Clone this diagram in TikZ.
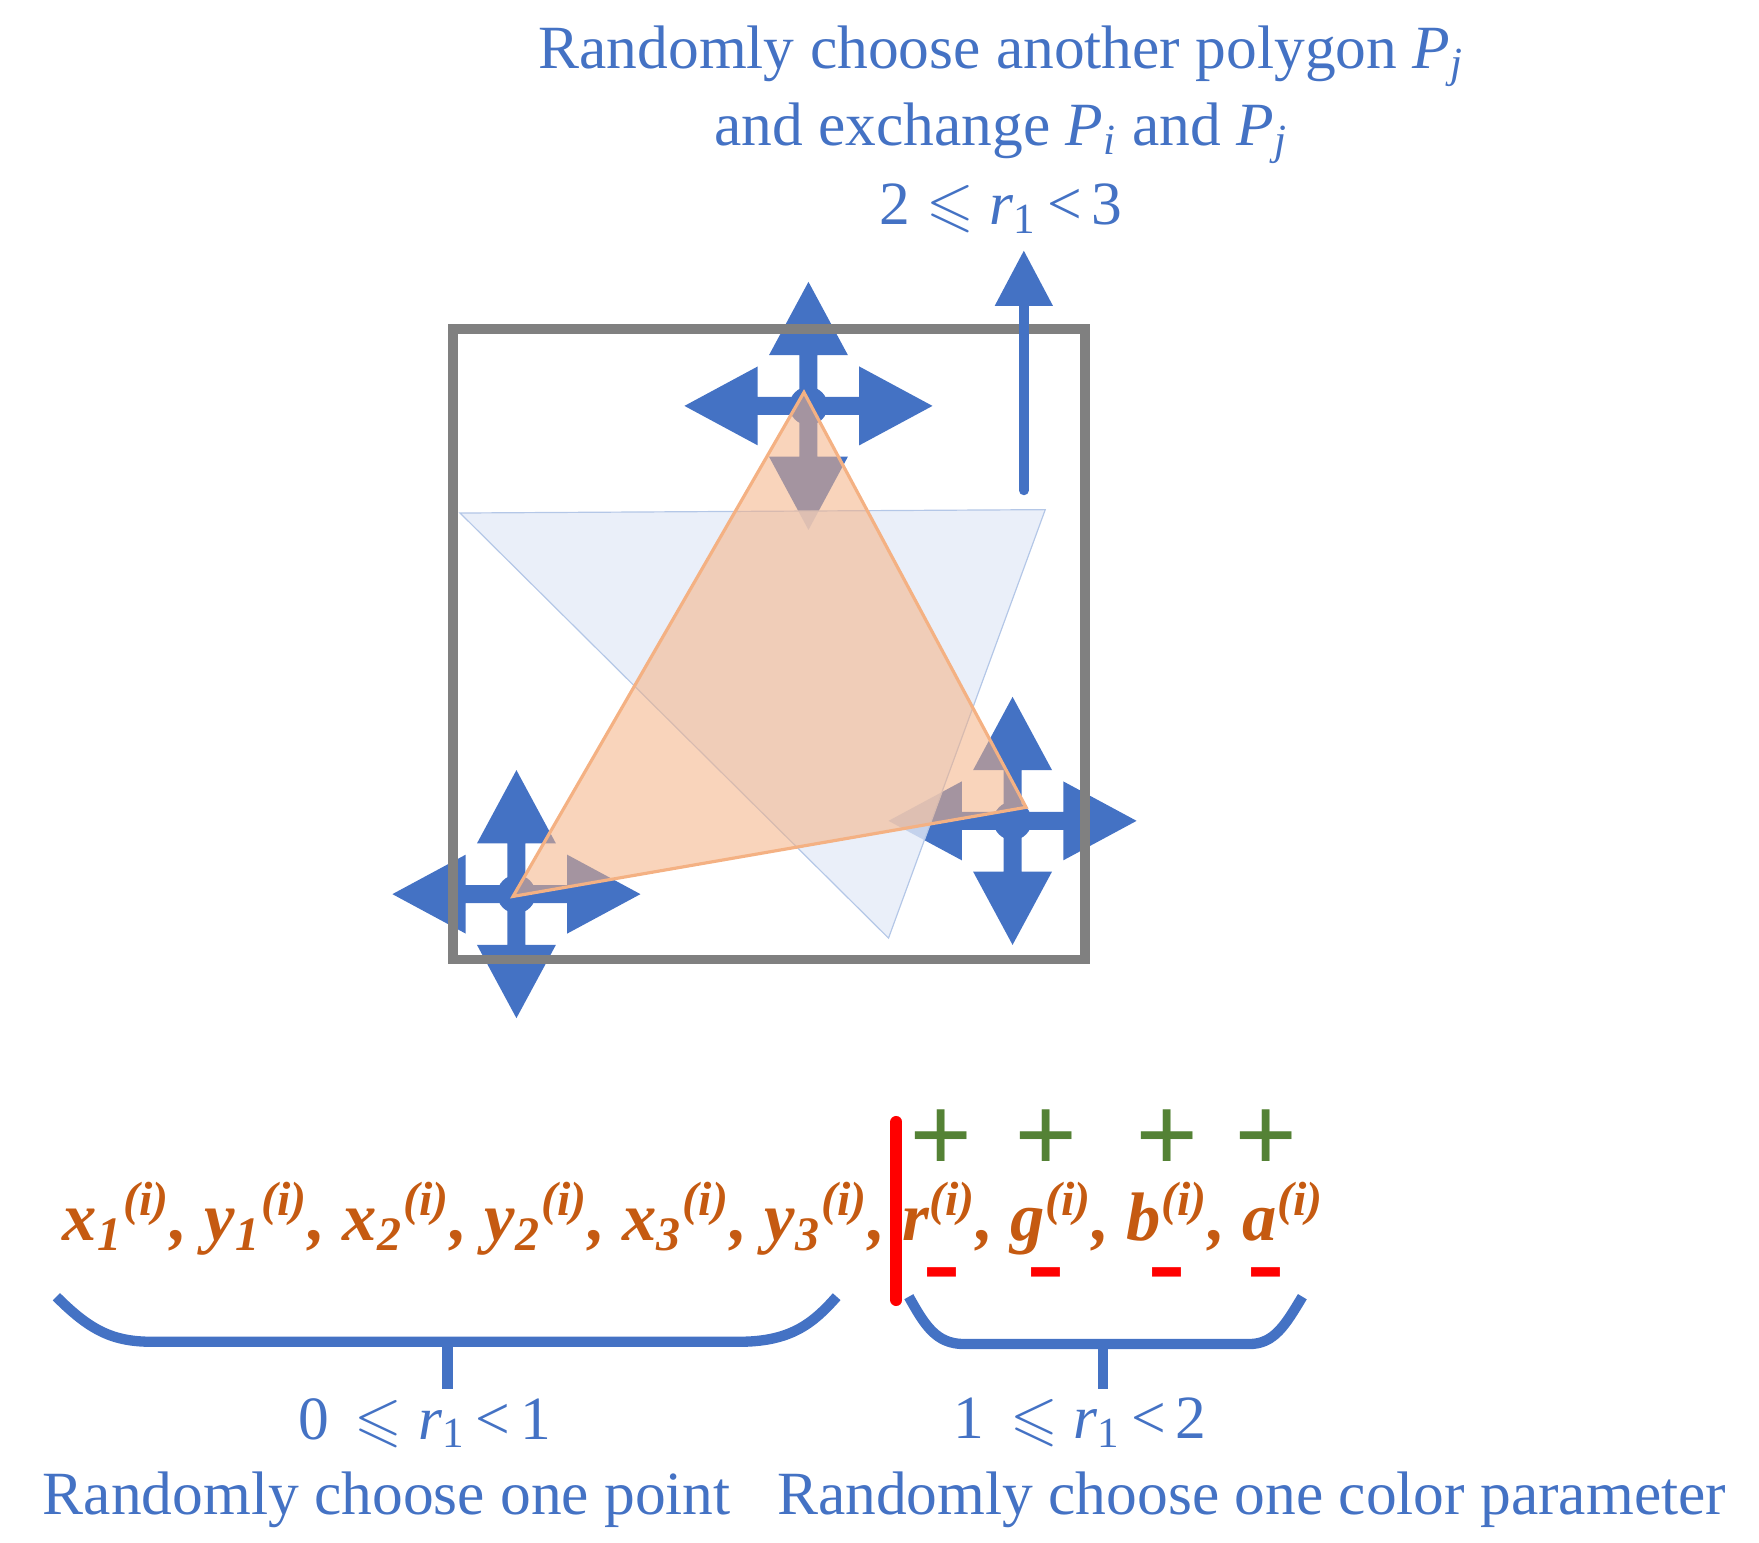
\documentclass[tikz,border=0pt]{standalone}
\usepackage{amssymb}
\usepackage{fontspec}
\setmainfont{Liberation Serif}
\usetikzlibrary{arrows.meta}
\definecolor{myblue}{HTML}{4472C4}
\definecolor{myor}{HTML}{C55A11}
\definecolor{mygreen}{HTML}{548235}
\definecolor{tri}{HTML}{F4B183}
\tikzset{x=0.01cm,y=-0.01cm,
 lbl/.style={text=myblue,font=\fontsize{15.5}{19}\selectfont,inner sep=0pt},
 sgn/.style={font=\fontsize{28}{28}\selectfont\bfseries,inner sep=0pt},
 brace/.style={draw=myblue,line width=2.6pt}}
\newcommand{\myarm}[1]{%
 \fill[myblue,rotate=#1] (0,-8) -- (-45,-8) -- (-45,-35) -- (-110,0) -- (-45,35) -- (-45,8) -- (0,8) -- cycle;}
\newcommand{\mycross}[2]{%
 \begin{scope}[shift={(#1,#2)}]
 \myarm{0}\myarm{90}\myarm{180}\myarm{270}
 \fill[myblue] (0,0) circle (17);
 \end{scope}}
\begin{document}
\begin{tikzpicture}
\useasboundingbox (0,0) rectangle (1560,1368);
\mycross{717}{360}
\mycross{458}{793}
\mycross{898}{728}
% box
\node[draw=gray,line width=2.4pt,minimum width=5.6cm,minimum height=5.59cm,inner sep=0pt] (box) at (682,571.5) {};
% triangles
\fill[myblue!14,opacity=0.8] (408,455) -- (927,452) -- (788,832) -- cycle;
\draw[myblue!40,line width=0.3pt] (408,455) -- (927,452) -- (788,832) -- cycle;
\filldraw[fill=tri,fill opacity=0.55,draw=tri,line width=0.8pt] (713,348) -- (910,716) -- (455,795) -- cycle;
% up arrow
\coordinate (ua) at (908,435);
\coordinate (ub) at (908,222);
\draw[myblue,line width=2.4pt,line cap=round,-{Triangle[length=14pt,width=14pt]}] (ua) -- (ub);
% top text
\node[lbl] (t1) at (888,50) {Randomly choose another polygon \textit{P}\textsubscript{\textit{j}}};
\node[lbl] (t2) at (888,118) {and exchange \textit{P}\textsubscript{\textit{i}} and \textit{P}\textsubscript{\textit{j}}};
\node[lbl] (t3) at (888,185) {2 $\leqslant$ \textit{r}\textsubscript{1}\,<\,3};
% formula
\node[text=myor,font=\fontsize{17.3}{20}\selectfont\bfseries\itshape,inner sep=0pt,anchor=base west] (f) at (55,1100)
{x\textsubscript{1}\textsuperscript{(i)}, y\textsubscript{1}\textsuperscript{(i)}, x\textsubscript{2}\textsuperscript{(i)}, y\textsubscript{2}\textsuperscript{(i)}, x\textsubscript{3}\textsuperscript{(i)}, y\textsubscript{3}\textsuperscript{(i)}, r\textsuperscript{(i)}, g\textsuperscript{(i)}, b\textsuperscript{(i)}, a\textsuperscript{(i)}};
\draw[red,line width=3pt,line cap=round] (795,995) -- (795,1153);
\foreach \x in {835,928,1035,1123}{
 \node[sgn,text=mygreen] at (\x,1012) {+};
 \node[sgn,text=red] at (\x,1138) {-};}
% braces
\draw[brace] (50,1150) .. controls (80,1180) and (100,1190) .. (135,1190) -- (655,1190) .. controls (700,1190) and (720,1175) .. (742,1150);
\draw[brace] (397,1190) -- (397,1232);
\draw[brace] (806,1150) .. controls (820,1175) and (830,1192) .. (855,1192) -- (1108,1192) .. controls (1130,1192) and (1140,1175) .. (1155,1150);
\draw[brace] (978,1192) -- (978,1232);
% labels
\node[lbl] (l1) at (377,1262) {0 \,$\leqslant$ \textit{r}\textsubscript{1}\,<\,1};
\node[lbl] (l2) at (958,1262) {1 \,$\leqslant$ \textit{r}\textsubscript{1}\,<\,2};
\node[lbl] (l3) at (343,1330) {Randomly choose one point};
\node[lbl] (l4) at (1110,1330) {Randomly choose one color parameter};
\end{tikzpicture}
\end{document}
